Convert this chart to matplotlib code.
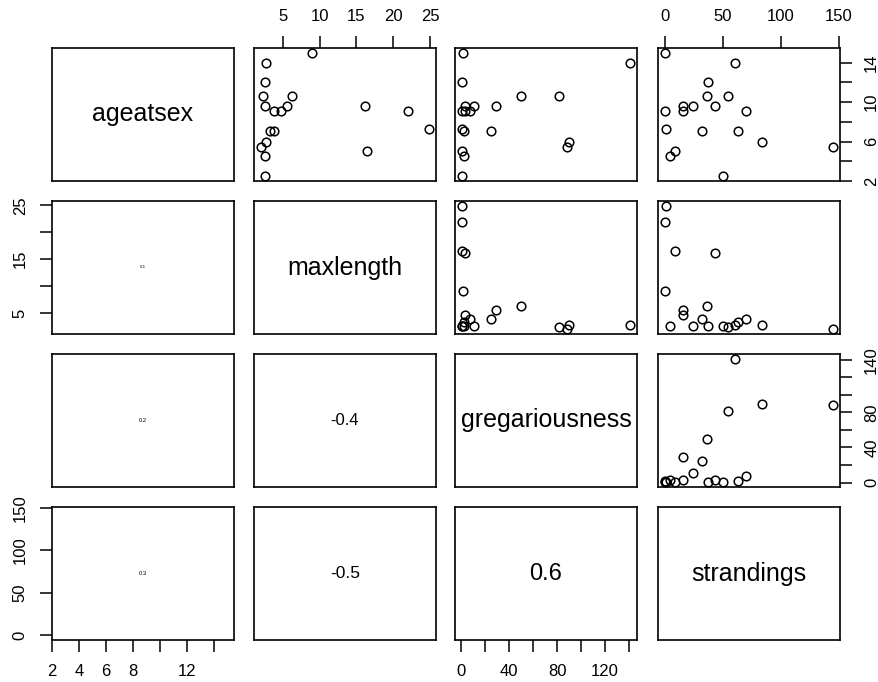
import matplotlib
matplotlib.use("Agg")
import matplotlib.pyplot as plt
import numpy as np

plt.rcParams['font.family'] = ['Liberation Sans', 'DejaVu Sans']

# ---------------- data ----------------
var_names = ["ageatsex", "maxlength", "gregariousness", "strandings"]
ageatsex = [15.0, 14.0, 12.0, 10.6, 10.6, 9.6, 9.6, 9.6, 9.1, 9.1, 9.1,
            7.3, 7.1, 7.1, 6.0, 5.5, 5.0, 4.5, 2.5]
maxlength = [9.0, 2.7, 2.6, 6.3, 2.3, 16.2, 5.6, 2.6, 22.0, 4.7, 3.8,
             24.9, 3.8, 3.3, 2.7, 2.0, 16.5, 2.6, 2.6]
gregariousness = [1.5, 141, 1, 50, 82, 3, 29, 11, 1, 3, 7,
                  0.5, 25, 2, 90, 88, 0.5, 2.5, 1]
strandings = [0, 60.5, 37.5, 36, 54.8, 43.2, 15.9, 24.5, 0, 15.9, 70,
              1.4, 31.7, 62.8, 83.6, 145, 8.6, 4.3, 50.4]

# correlation labels shown in lower panels (row, col)
cor_text = {(1, 0): "0.1", (2, 0): "0.2", (3, 0): "0.3",
            (2, 1): "-0.4", (3, 1): "-0.5", (3, 2): "0.6"}

# axis ticks / labels
age_ticks = [2, 4, 6, 8, 10, 12, 14]
age_bottom_labels = ["2", "4", "6", "8", "", "12", ""]
age_right_labels = ["2", "", "6", "", "10", "", "14"]
ml_ticks = [5, 10, 15, 20, 25]
ml_top_labels = ["5", "10", "15", "20", "25"]
ml_left_labels = ["5", "", "15", "", "25"]
greg_ticks = [0, 20, 40, 60, 80, 100, 120, 140]
greg_bottom_labels = ["0", "", "40", "", "80", "", "120", ""]
greg_right_labels = ["0", "", "40", "", "80", "", "", "140"]
str_ticks = [0, 50, 100, 150]
str_labels = ["0", "50", "100", "150"]

# ---------------- styling / layout ----------------
data = [np.array(ageatsex), np.array(maxlength),
        np.array(gregariousness), np.array(strandings)]
lims = []
for d in data:
    r = d.max() - d.min()
    lims.append((d.min() - 0.04 * r, d.max() + 0.04 * r))

cor_size = {(1, 0): 3.2, (2, 0): 4.2, (3, 0): 4.2,
            (2, 1): 12.0, (3, 1): 12.5, (3, 2): 17.0}

W, H = 879, 682
fig = plt.figure(figsize=(W / 100, H / 100), dpi=100)
col_left = [52, 254, 455, 658]
row_top = [48, 201, 354, 507]
pw, ph = 182, 133

tick_kw = dict(length=8.4, width=1.1, direction='out', pad=9,
               labelsize=12, color='black', labelcolor='black')

axes = {}
for i in range(4):
    for j in range(4):
        l = col_left[j]
        t = row_top[i]
        ax = fig.add_axes([l / W, 1 - (t + ph) / H, pw / W, ph / H])
        axes[(i, j)] = ax
        ax.set_xlim(*lims[j])
        ax.set_ylim(*lims[i])
        for s in ax.spines.values():
            s.set_linewidth(1.2)
            s.set_color('black')
        ax.set_xticks([])
        ax.set_yticks([])
        if i == j:
            ax.text(0.5, 0.5, var_names[i], transform=ax.transAxes,
                    ha='center', va='center', fontsize=18)
        elif j > i:
            ax.plot(data[j], data[i], 'o', mfc='none', mec='black',
                    ms=6.2, mew=1.1, ls='none')
        else:
            ax.text(0.5, 0.5, cor_text[(i, j)], transform=ax.transAxes,
                    ha='center', va='center', fontsize=cor_size[(i, j)])

# top axes (cols 2 and 4)
ax = axes[(0, 1)]
ax.xaxis.tick_top()
ax.set_xticks(ml_ticks)
ax.set_xticklabels(ml_top_labels)
ax.tick_params(axis='x', **tick_kw)

ax = axes[(0, 3)]
ax.xaxis.tick_top()
ax.set_xticks(str_ticks)
ax.set_xticklabels(str_labels)
ax.tick_params(axis='x', **tick_kw)

# right axes (rows 1 and 3)
ax = axes[(0, 3)]
ax.yaxis.tick_right()
ax.set_yticks(age_ticks)
ax.set_yticklabels(age_right_labels, rotation=90, va='center')
ax.tick_params(axis='y', **tick_kw)

ax = axes[(2, 3)]
ax.yaxis.tick_right()
ax.set_yticks(greg_ticks)
ax.set_yticklabels(greg_right_labels, rotation=90, va='center')
ax.tick_params(axis='y', **tick_kw)

# left axes (rows 2 and 4)
ax = axes[(1, 0)]
ax.set_yticks(ml_ticks)
ax.set_yticklabels(ml_left_labels, rotation=90, va='center')
ax.tick_params(axis='y', **tick_kw)

ax = axes[(3, 0)]
ax.set_yticks(str_ticks)
ax.set_yticklabels(str_labels, rotation=90, va='center')
ax.tick_params(axis='y', **tick_kw)

# bottom axes (cols 1 and 3)
ax = axes[(3, 0)]
ax.set_xticks(age_ticks)
ax.set_xticklabels(age_bottom_labels)
ax.tick_params(axis='x', **tick_kw)

ax = axes[(3, 2)]
ax.set_xticks(greg_ticks)
ax.set_xticklabels(greg_bottom_labels)
ax.tick_params(axis='x', **tick_kw)

fig.savefig("out.png", dpi=100)
